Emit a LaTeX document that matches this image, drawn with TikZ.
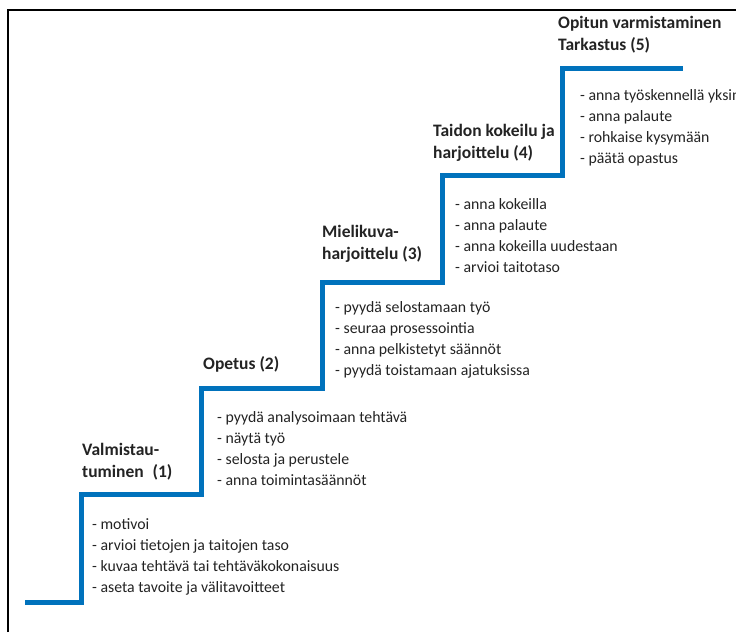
\documentclass[tikz,border=0pt]{standalone}
\usepackage{fontspec}
\setmainfont{Carlito}
\usepackage{xcolor}
\usepackage{tikz}
\usetikzlibrary{positioning}
\definecolor{stairblue}{RGB}{0,114,188}
\definecolor{txtgray}{RGB}{35,35,35}

\begin{document}
\begin{tikzpicture}[
  x=1pt, y=-1pt,
  stair/.style={line width=5pt, stairblue, line join=miter},
  frame/.style={line width=1.8pt, black},
  title/.style={anchor=base west, inner sep=0pt, align=left, text=txtgray,
                font=\bfseries\fontsize{17.5}{22}\selectfont},
  tasks/.style={anchor=base west, inner sep=0pt, align=left, text=txtgray,
                font=\fontsize{15.8}{21}\selectfont}
]
\useasboundingbox (0,0) rectangle (736,632);
\draw[frame] (8,632) -- (8,10) -- (736,10);
\draw[stair] (25,602) -| (81,494) -| (201,388) -| (322,282)
  -| (442,175) -| (562,68) -- (683,68);

\node[title] (t1) at (82,477) {Valmistau-\\tuminen\enspace(1)};
\node[title] (t2) at (203,369) {Opetus (2)};
\node[title] (t3) at (322,259) {Mielikuva-\\harjoittelu (3)};
\node[title] (t4) at (433,158) {Taidon kokeilu ja\\harjoittelu (4)};
\node[title] (t5) at (558,50) {Opitun varmistaminen\\Tarkastus (5)};

\node[tasks] (l1) at (92,592) {- motivoi\\- arvioi tietojen ja taitojen taso\\
  - kuvaa tehtävä tai tehtäväkokonaisuus\\- aseta tavoite ja välitavoitteet};
\node[tasks] (l2) at (217,485) {- pyydä analysoimaan tehtävä\\- näytä työ\\
  - selosta ja perustele\\- anna toimintasäännöt};
\node[tasks] (l3) at (335,375) {- pyydä selostamaan työ\\- seuraa prosessointia\\
  - anna pelkistetyt säännöt\\- pyydä toistamaan ajatuksissa};
\node[tasks] (l4) at (455,272) {- anna kokeilla\\- anna palaute\\
  - anna kokeilla uudestaan\\- arvioi taitotaso};
\node[tasks] (l5) at (580,163) {- anna työskennellä yksin\\- anna palaute\\
  - rohkaise kysymään\\- päätä opastus};
\end{tikzpicture}
\end{document}
